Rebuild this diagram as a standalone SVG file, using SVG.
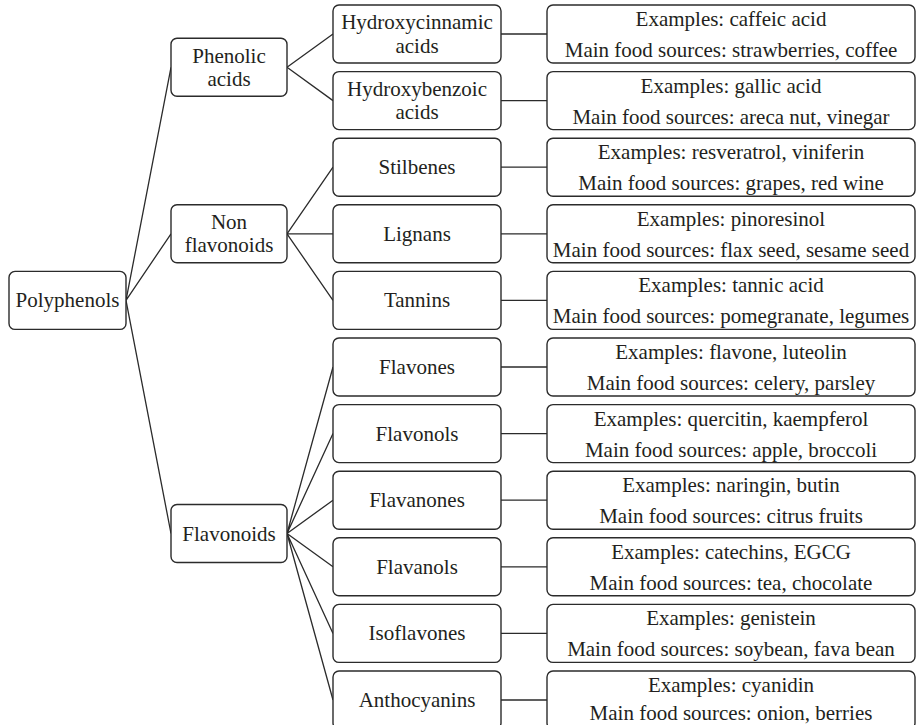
<svg xmlns="http://www.w3.org/2000/svg" width="917" height="725" viewBox="0 0 917 725">
<style>
.b{fill:#fff;stroke:#2b2b2b;stroke-width:1.4}
.t{font-size:21px;fill:#231f20;text-anchor:middle}
.c{stroke:#2b2b2b;stroke-width:1.3;fill:none}
</style>
<rect width="917" height="725" fill="#fff"/>
<g id="connectors" class="c">
<path d="M126 300.4L171 67.3M126 300.4L171 233.8M126 300.4L171 533.5"/>
<path d="M287 67.3L333 34M287 67.3L333 100.6"/>
<path d="M287 233.8L333 167.2M287 233.8L333 233.8M287 233.8L333 300.4"/>
<path d="M287 533.5L333 367M287 533.5L333 433.6M287 533.5L333 500.2M287 533.5L333 566.8M287 533.5L333 633.4M287 533.5L333 700"/>
<path d="M501 34H547M501 100.6H547M501 167.2H547M501 233.8H547M501 300.4H547M501 367H547M501 433.6H547M501 500.2H547M501 566.8H547M501 633.4H547M501 700H547"/>
</g>
<g font-family="Liberation Serif, Tinos, Noto Serif, DejaVu Serif, serif">
<g id="polyphenols"><rect class="b" x="9" y="271.4" width="117" height="58" rx="6"/><text class="t" x="67.5" y="307.4">Polyphenols</text></g>
<g id="phenolic-acids"><rect class="b" x="171" y="38.3" width="116" height="58" rx="6"/><text class="t" x="229" y="62.5">Phenolic</text><text class="t" x="229" y="85.8">acids</text></g>
<g id="non-flavonoids"><rect class="b" x="171" y="204.8" width="116" height="58" rx="6"/><text class="t" x="229" y="229">Non</text><text class="t" x="229" y="252.3">flavonoids</text></g>
<g id="flavonoids"><rect class="b" x="171" y="504.5" width="116" height="58" rx="6"/><text class="t" x="229" y="540.5">Flavonoids</text></g>

<g id="hydroxycinnamic"><rect class="b" x="333" y="5" width="168" height="58" rx="6"/><text class="t" x="417" y="29.3">Hydroxycinnamic</text><text class="t" x="417" y="52.6">acids</text></g>
<g id="hydroxybenzoic"><rect class="b" x="333" y="71.6" width="168" height="58" rx="6"/><text class="t" x="417" y="95.9">Hydroxybenzoic</text><text class="t" x="417" y="119.2">acids</text></g>
<g id="stilbenes"><rect class="b" x="333" y="138.2" width="168" height="58" rx="6"/><text class="t" x="417" y="174.2">Stilbenes</text></g>
<g id="lignans"><rect class="b" x="333" y="204.8" width="168" height="58" rx="6"/><text class="t" x="417" y="240.8">Lignans</text></g>
<g id="tannins"><rect class="b" x="333" y="271.4" width="168" height="58" rx="6"/><text class="t" x="417" y="307.4">Tannins</text></g>
<g id="flavones"><rect class="b" x="333" y="338" width="168" height="58" rx="6"/><text class="t" x="417" y="374">Flavones</text></g>
<g id="flavonols"><rect class="b" x="333" y="404.6" width="168" height="58" rx="6"/><text class="t" x="417" y="440.6">Flavonols</text></g>
<g id="flavanones"><rect class="b" x="333" y="471.2" width="168" height="58" rx="6"/><text class="t" x="417" y="507.2">Flavanones</text></g>
<g id="flavanols"><rect class="b" x="333" y="537.8" width="168" height="58" rx="6"/><text class="t" x="417" y="573.8">Flavanols</text></g>
<g id="isoflavones"><rect class="b" x="333" y="604.4" width="168" height="58" rx="6"/><text class="t" x="417" y="640.4">Isoflavones</text></g>
<g id="anthocyanins"><rect class="b" x="333" y="671" width="168" height="58" rx="6"/><text class="t" x="417" y="707">Anthocyanins</text></g>

<g id="ex-hydroxycinnamic"><rect class="b" x="547" y="5" width="368" height="58" rx="6"/><text class="t" x="731" y="26">Examples: caffeic acid</text><text class="t" x="731" y="57">Main food sources: strawberries, coffee</text></g>
<g id="ex-hydroxybenzoic"><rect class="b" x="547" y="71.6" width="368" height="58" rx="6"/><text class="t" x="731" y="92.6">Examples: gallic acid</text><text class="t" x="731" y="123.6">Main food sources: areca nut, vinegar</text></g>
<g id="ex-stilbenes"><rect class="b" x="547" y="138.2" width="368" height="58" rx="6"/><text class="t" x="731" y="159.2">Examples: resveratrol, viniferin</text><text class="t" x="731" y="190.2">Main food sources: grapes, red wine</text></g>
<g id="ex-lignans"><rect class="b" x="547" y="204.8" width="368" height="58" rx="6"/><text class="t" x="731" y="225.8">Examples: pinoresinol</text><text class="t" x="731" y="256.8">Main food sources: flax seed, sesame seed</text></g>
<g id="ex-tannins"><rect class="b" x="547" y="271.4" width="368" height="58" rx="6"/><text class="t" x="731" y="292.4">Examples: tannic acid</text><text class="t" x="731" y="323.4">Main food sources: pomegranate, legumes</text></g>
<g id="ex-flavones"><rect class="b" x="547" y="338" width="368" height="58" rx="6"/><text class="t" x="731" y="359">Examples: flavone, luteolin</text><text class="t" x="731" y="390">Main food sources: celery, parsley</text></g>
<g id="ex-flavonols"><rect class="b" x="547" y="404.6" width="368" height="58" rx="6"/><text class="t" x="731" y="425.6">Examples: quercitin, kaempferol</text><text class="t" x="731" y="456.6">Main food sources: apple, broccoli</text></g>
<g id="ex-flavanones"><rect class="b" x="547" y="471.2" width="368" height="58" rx="6"/><text class="t" x="731" y="492.2">Examples: naringin, butin</text><text class="t" x="731" y="523.2">Main food sources: citrus fruits</text></g>
<g id="ex-flavanols"><rect class="b" x="547" y="537.8" width="368" height="58" rx="6"/><text class="t" x="731" y="558.8">Examples: catechins, EGCG</text><text class="t" x="731" y="589.8">Main food sources: tea, chocolate</text></g>
<g id="ex-isoflavones"><rect class="b" x="547" y="604.4" width="368" height="58" rx="6"/><text class="t" x="731" y="625.4">Examples: genistein</text><text class="t" x="731" y="656.4">Main food sources: soybean, fava bean</text></g>
<g id="ex-anthocyanins"><rect class="b" x="547" y="671" width="368" height="58" rx="6"/><text class="t" x="731" y="692">Examples: cyanidin</text><text class="t" x="731" y="720">Main food sources: onion, berries</text></g>
</g>
</svg>
